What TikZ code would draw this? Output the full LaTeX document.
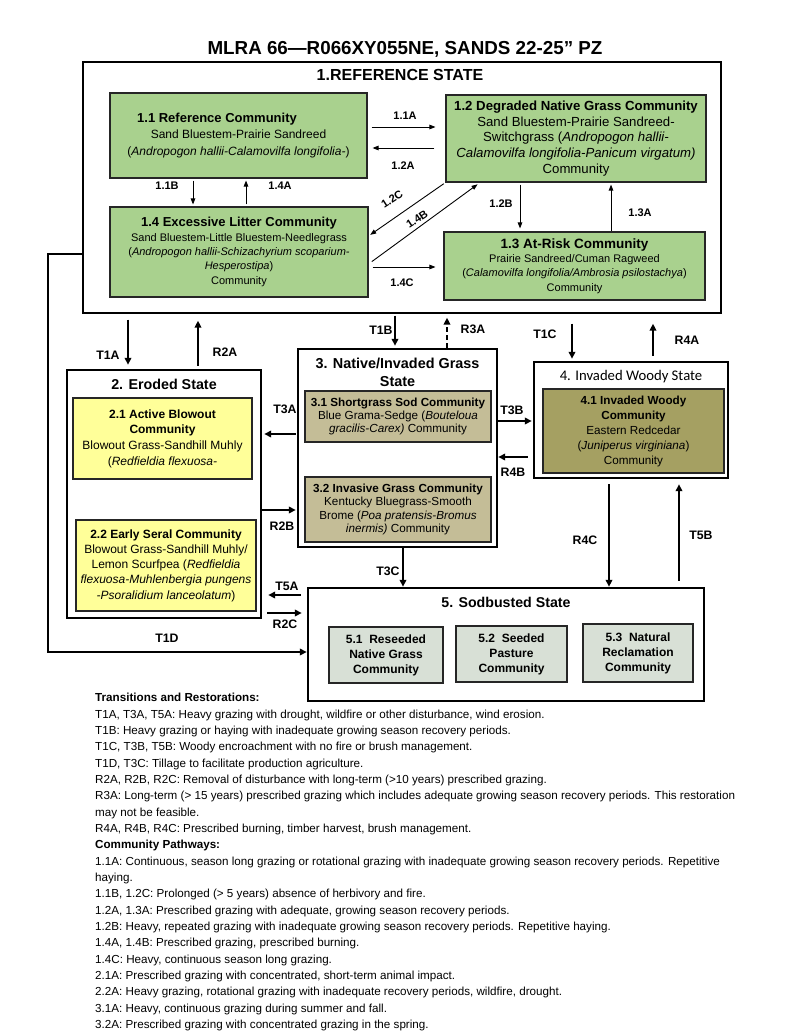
\documentclass[tikz,border=0pt]{standalone}
\usepackage{fontspec}
\setmainfont{Liberation Sans}
\newfontfamily\calibfont{Carlito}
\usetikzlibrary{arrows.meta}
\definecolor{refgreen}{HTML}{A9D18E}
\definecolor{erodyellow}{HTML}{FFFF99}
\definecolor{nativetan}{HTML}{C4BD97}
\definecolor{woodyolive}{HTML}{A5A062}
\definecolor{sodgrey}{HTML}{D8E0D6}
\newcommand{\fsz}[2]{\fontsize{#1}{#2}\selectfont}
\begin{document}
\begin{tikzpicture}[x=1pt,y=-1pt,
    comm/.style={draw=black!85, line width=1.1pt, inner sep=0pt, align=center},
    state/.style={draw=black, line width=2.4pt, inner sep=0pt},
    trans/.style={line width=1.8pt, -{Triangle[length=7pt,width=6.5pt]}},
    pathw/.style={line width=0.9pt, -{Triangle[length=6pt,width=4.5pt]}},
    tlbl/.style={font=\bfseries\fsz{12.3}{14}},
    plbl/.style={font=\bfseries\fsz{11}{13}}]
    \useasboundingbox (0,0) rectangle (800,1035);

    \node[font=\bfseries\fsz{18.8}{20}] (title) at (405,49) {MLRA 66—R066XY055NE, SANDS 22-25” PZ};

    \node[draw, line width=1.3pt, minimum width=638pt, minimum height=251pt, inner sep=0pt] (ref) at (402,187.5) {};
    \node[state, minimum width=194pt, minimum height=248pt] (eroded) at (164,494) {};
    \node[state, minimum width=199pt, minimum height=198pt] (native) at (397.5,448) {};
    \node[state, minimum width=194pt, minimum height=116pt] (woody) at (631,420) {};
    \node[state, minimum width=396pt, minimum height=113pt] (sod) at (506,644.5) {};

    \node[font=\bfseries\fsz{16}{18}] (reftitle) at (400,75) {1.REFERENCE STATE};
    \node[font=\bfseries\fsz{14.3}{18}] (erodtitle) at (164,384) {2. Eroded State};
    \node[font=\bfseries\fsz{14.4}{18}, align=center] (nattitle) at (397.5,372) {3. Native/Invaded Grass\\State};
    \node[font=\calibfont\fsz{14.7}{18}] (woodytitle) at (631,377) {4. Invaded Woody State};
    \node[font=\bfseries\fsz{14.2}{18}] (sodtitle) at (506,602) {5. Sodbusted State};

    \node[comm, fill=refgreen, minimum width=257pt, minimum height=85pt, font=\fsz{12}{16.5}] (c11) at (238.5,135.5)
      {\hspace*{-43pt}\textbf{\fsz{13}{16.5}1.1 Reference Community}\\Sand Bluestem-Prairie Sandreed\\(\textit{Andropogon hallii-Calamovilfa longifolia-})};
    \node[comm, fill=refgreen, minimum width=260pt, minimum height=87pt, font=\fsz{13.2}{15.8}] (c12) at (576,138.5)
      {\textbf{1.2 Degraded Native Grass Community}\\Sand Bluestem-Prairie Sandreed-\\Switchgrass (\textit{Andropogon hallii-}\\\textit{Calamovilfa longifolia-Panicum virgatum)}\\Community};
    \node[comm, fill=refgreen, minimum width=258pt, minimum height=90pt, font=\fsz{11}{14.3}] (c14) at (239,252)
      {\textbf{\fsz{13}{14.3}1.4 Excessive Litter Community}\\Sand Bluestem-Little Bluestem-Needlegrass\\(\textit{Andropogon hallii-Schizachyrium scoparium-}\\\textit{Hesperostipa})\\Community};
    \node[comm, fill=refgreen, minimum width=261pt, minimum height=68pt, font=\fsz{11}{14.3}] (c13) at (574.5,266)
      {\textbf{\fsz{13.5}{14.3}1.3 At-Risk Community}\\Prairie Sandreed/Cuman Ragweed\\(\textit{Calamovilfa longifolia/Ambrosia psilostachya})\\Community};

    \node[comm, fill=erodyellow, minimum width=179pt, minimum height=81pt, font=\fsz{12}{15.7}] (c21) at (162.5,438.5)
      {\textbf{2.1 Active Blowout}\\\textbf{Community}\\Blowout Grass-Sandhill Muhly\\(\textit{Redfieldia flexuosa-}};
    \node[comm, fill=erodyellow, minimum width=180pt, minimum height=91pt, font=\fsz{12}{15.2}] (c22) at (166,565.5)
      {\textbf{2.2 Early Seral Community}\\Blowout Grass-Sandhill Muhly/\\Lemon Scurfpea (\textit{Redfieldia}\\\textit{flexuosa-Muhlenbergia pungens}\\\textit{-Psoralidium lanceolatum})};

    \node[comm, fill=nativetan, minimum width=186pt, minimum height=51pt, font=\fsz{11.7}{13}] (c31) at (398,416.5)
      {\textbf{3.1 Shortgrass Sod Community}\\Blue Grama-Sedge (\textit{Bouteloua}\\\textit{gracilis-Carex)} Community};
    \node[comm, fill=nativetan, minimum width=186pt, minimum height=65pt, font=\fsz{11.7}{13.3}] (c32) at (398,509.5)
      {\textbf{3.2 Invasive Grass Community}\\Kentucky Bluegrass-Smooth\\Brome (\textit{Poa pratensis-Bromus}\\\textit{inermis)} Community};

    \node[comm, fill=woodyolive, minimum width=181pt, minimum height=84pt, font=\fsz{11.7}{15}] (c41) at (633.5,431)
      {\textbf{4.1 Invaded Woody}\\\textbf{Community}\\Eastern Redcedar\\(\textit{Juniperus virginiana})\\Community};

    \node[comm, fill=sodgrey, minimum width=114pt, minimum height=56pt, font=\bfseries\fsz{12}{15}] (c51) at (386,655)
      {5.1~~Reseeded\\Native Grass\\Community};
    \node[comm, fill=sodgrey, minimum width=111pt, minimum height=56pt, font=\bfseries\fsz{12}{15}] (c52) at (511.5,654)
      {5.2~~Seeded\\Pasture\\Community};
    \node[comm, fill=sodgrey, minimum width=110pt, minimum height=58pt, font=\bfseries\fsz{12}{15}] (c53) at (638,653)
      {5.3~~Natural\\Reclamation\\Community};

    \draw[pathw, shorten <=4pt, shorten >=10pt] (c11.east |- 0,127) -- (c12.west |- 0,127);
    \draw[pathw, shorten <=11pt, shorten >=5pt] (c12.west |- 0,148) -- (c11.east |- 0,148);
    \draw[pathw, shorten <=2pt, shorten >=2pt] (193,0 |- c11.south) -- (193,0 |- c14.north);
    \draw[pathw, shorten <=2pt, shorten >=2pt] (246,0 |- c14.north) -- (246,0 |- c11.south);
    \draw[pathw, shorten <=2pt, shorten >=2pt] (c12.south west) -- (c14.east |- 0,236);
    \draw[pathw, shorten <=4pt, shorten >=3pt] (c14.east |- 0,264) -- (480,0 |- c12.south);
    \draw[pathw, shorten <=2pt, shorten >=3pt] (520,0 |- c12.south) -- (520,0 |- c13.north);
    \draw[pathw, shorten >=2pt] (611,0 |- c13.north) -- (611,0 |- c12.south);
    \draw[pathw, shorten <=4pt, shorten >=8pt] (c14.east |- 0,267) -- (c13.west |- 0,267);

    \foreach \t/\x/\y [count=\i] in {1.1A/405/116, 1.2A/403/166, 1.1B/167/186, 1.4A/280/186,
        1.2B/501/204, 1.3A/640/213, 1.4C/402/283}
      \node[plbl] (pl\i) at (\x,\y) {\t};
    \node[plbl, rotate=33, inner sep=0pt] (pl12c) at (392,199) {1.2C};
    \node[plbl, rotate=33, inner sep=0pt] (pl14b) at (417,219) {1.4B};

    \draw[trans, shorten <=6pt, shorten >=4pt] (128,0 |- ref.south) -- (128,0 |- eroded.north);
    \draw[trans, shorten <=3pt, shorten >=7pt] (198,0 |- eroded.north) -- (198,0 |- ref.south);
    \draw[trans, shorten <=2pt, shorten >=2pt] (395,0 |- ref.south) -- (395,0 |- native.north);
    \draw[trans, dash pattern=on 5pt off 3pt, shorten >=4pt] (447,0 |- native.north) -- (447,0 |- ref.south);
    \draw[trans, shorten <=10pt, shorten >=2pt] (572,0 |- ref.south) -- (572,0 |- woody.north);
    \draw[trans, shorten <=5pt, shorten >=10pt] (653,0 |- woody.north) -- (653,0 |- ref.south);
    \draw[trans, shorten <=1pt, shorten >=2pt] (native.west |- 0,434) -- (eroded.east |- 0,434);
    \draw[trans, shorten >=1pt] (eroded.east |- 0,510) -- (native.west |- 0,510);
    \draw[trans, shorten >=1pt] (native.east |- 0,421) -- (woody.west |- 0,421);
    \draw[trans, shorten <=5pt] (woody.west |- 0,457) -- (native.east |- 0,457);
    \draw[trans] (403,0 |- native.south) -- (403,0 |- sod.north);
    \draw[trans, shorten <=5pt] (609,0 |- woody.south) -- (609,0 |- sod.north);
    \draw[trans, shorten <=6pt, shorten >=5pt] (679,0 |- sod.north) -- (679,0 |- woody.south);
    \draw[trans, shorten <=6pt, shorten >=6pt] (sod.west |- 0,595) -- (eroded.east |- 0,595);
    \draw[trans, shorten <=5pt, shorten >=5pt] (eroded.east |- 0,613) -- (sod.west |- 0,613);
    \draw[trans] (ref.west |- 0,254) -| (48,652) -- (sod.west |- 0,652);

    \foreach \t/\x/\y [count=\i] in {T1A/108/355, R2A/225/352, T1B/381/330, R3A/473/329, T1C/545/334,
        R4A/687/340, T3A/285/409, R2B/282/526, T3B/512/410, R4B/513/472, T3C/388/571, R4C/585/540,
        T5B/701/535, T5A/287/586, R2C/285/624, T1D/167/638}
      \node[tlbl] (tl\i) at (\x,\y) {\t};

    \node[anchor=north west, align=left, inner sep=0pt, font=\fsz{11.65}{16.35}] (legend) at (95,693)
      {\textbf{Transitions and Restorations:}\\
       T1A, T3A, T5A: Heavy grazing with drought, wildfire or other disturbance, wind erosion.\\
       T1B: Heavy grazing or haying with inadequate growing season recovery periods.\\
       T1C, T3B, T5B: Woody encroachment with no fire or brush management.\\
       T1D, T3C: Tillage to facilitate production agriculture.\\
       R2A, R2B, R2C: Removal of disturbance with long-term (>10 years) prescribed grazing.\\
       R3A: Long-term (> 15 years) prescribed grazing which includes adequate growing season recovery periods. This restoration\\
       may not be feasible.\\
       R4A, R4B, R4C: Prescribed burning, timber harvest, brush management.\\
       \textbf{Community Pathways:}\\
       1.1A: Continuous, season long grazing or rotational grazing with inadequate growing season recovery periods. Repetitive\\
       haying.\\
       1.1B, 1.2C: Prolonged (> 5 years) absence of herbivory and fire.\\
       1.2A, 1.3A: Prescribed grazing with adequate, growing season recovery periods.\\
       1.2B: Heavy, repeated grazing with inadequate growing season recovery periods. Repetitive haying.\\
       1.4A, 1.4B: Prescribed grazing, prescribed burning.\\
       1.4C: Heavy, continuous season long grazing.\\
       2.1A: Prescribed grazing with concentrated, short-term animal impact.\\
       2.2A: Heavy grazing, rotational grazing with inadequate recovery periods, wildfire, drought.\\
       3.1A: Heavy, continuous grazing during summer and fall.\\
       3.2A: Prescribed grazing with concentrated grazing in the spring.};
\end{tikzpicture}
\end{document}
